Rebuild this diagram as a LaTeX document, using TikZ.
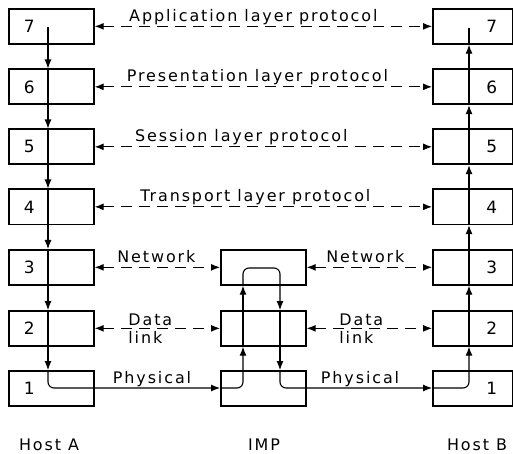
\documentclass[tikz,border=0pt]{standalone}
\usepackage{fontspec}
\setmainfont{DejaVu Sans}[LetterSpace=12]
\usetikzlibrary{arrows.meta,calc}
\begin{document}
\begin{tikzpicture}[x=1bp,y=-1bp,
  box/.style={draw, line width=1.7bp, minimum height=35bp, inner sep=0pt, anchor=north west},
  boxA/.style={box, minimum width=85bp},
  boxB/.style={box, minimum width=80bp},
  boxI/.style={box, minimum width=85bp},
  num/.style={font=\fontsize{17}{17}\selectfont, inner sep=0pt},
  tip/.style={-{Latex[length=9bp,width=7bp]}},
  flow/.style={line width=1.1bp, tip},
  proto/.style={line width=1.1bp, dash pattern=on 11bp off 7bp,
     {Latex[length=9bp,width=7bp]}-{Latex[length=9bp,width=7bp]}},
  lab/.style={font=\fontsize{16}{16}\selectfont, inner sep=0pt, anchor=base},
  labw/.style={font=\fontsize{16}{16}\selectfont, inner sep=0pt, anchor=base west},
]
\useasboundingbox (0,0) rectangle (513,454);

% Host A and Host B stacks
\foreach \k/\t in {7/8,6/68.5,5/128.5,4/188.5,3/249,2/310,1/370}{
  \node[boxA, label={[num,xshift=-22bp]center:\k}] (A\k) at (8,\t) {};
  \node[boxB, label={[num,xshift=19bp]center:\k}] (B\k) at (432,\t) {};
}
% IMP stack
\node[boxI] (I3) at (220,249) {};
\node[boxI] (I2) at (220,310) {};
\node[boxI] (I1) at (220,370) {};

% reference coordinates for the data path
\coordinate (a0) at (48,27);
\coordinate (u)  at (243,268);
\coordinate (d)  at (280,268);
\coordinate (b0) at (469,28);
\coordinate (p1) at (0,388);

% protocol (dashed) connectors
\draw[proto] (A7.east) -- node[lab, xshift=-10bp, yshift=5bp]{Application layer protocol} (B7.west);
\draw[proto] (A6.east) -- node[lab, xshift=-6bp, yshift=5bp]{Presentation layer protocol} (B6.west);
\draw[proto] (A5.east) -- node[lab, xshift=-22bp, yshift=5bp]{Session layer protocol} (B5.west);
\draw[proto] (A4.east) -- node[lab, xshift=-8bp, yshift=5bp]{Transport layer protocol} (B4.west);
\draw[proto] (A3.east) -- node[lab, xshift=-1bp, yshift=5bp]{Network} (I3.west);
\draw[proto] (I3.east) -- node[lab, xshift=-4bp, yshift=5bp]{Network} (B3.west);
\draw[proto] (A2.east) -- node[labw, xshift=-29.5bp, yshift=3bp]{Data}
                          node[labw, xshift=-29.5bp, yshift=-15bp]{link} (I2.west);
\draw[proto] (I2.east) -- node[labw, xshift=-30.5bp, yshift=3bp]{Data}
                          node[labw, xshift=-30.5bp, yshift=-15bp]{link} (B2.west);

% Host A downward path
\draw[flow] (a0) -- (a0 |- A6.north);
\draw[flow] (a0 |- A6.north) -- (a0 |- A5.north);
\draw[flow] (a0 |- A5.north) -- (a0 |- A4.north);
\draw[flow] (a0 |- A4.north) -- (a0 |- A3.north);
\draw[flow] (a0 |- A3.north) -- (a0 |- A2.north);
\draw[flow] (a0 |- A2.north) -- (a0 |- A1.north);
\draw[flow, rounded corners=6bp] (a0 |- A1.north) -- (a0 |- p1) --
   node[lab, xshift=18bp, yshift=5bp]{Physical} (I1.west |- p1);

% IMP path
\draw[flow, rounded corners=6bp] (I1.west |- p1) -- (u |- p1) -- (u |- I2.south);
\draw[flow] (u |- I2.south) -- (u |- I3.south);
\draw[flow, rounded corners=6bp] (u |- I3.south) -- (u) -- (d) -- (d |- I2.north);
\draw[flow] (d |- I2.north) -- (d |- I1.north);
\draw[flow, rounded corners=6bp] (d |- I1.north) -- (d |- p1) --
   node[lab, xshift=4bp, yshift=5bp]{Physical} (B1.west |- p1);

% Host B upward path
\draw[flow, rounded corners=6bp] (B1.west |- p1) -- (b0 |- p1) -- (b0 |- B2.south);
\draw[flow] (b0 |- B2.south) -- (b0 |- B3.south);
\draw[flow] (b0 |- B3.south) -- (b0 |- B4.south);
\draw[flow] (b0 |- B4.south) -- (b0 |- B5.south);
\draw[flow] (b0 |- B5.south) -- (b0 |- B6.south);
\draw[flow] (b0 |- B6.south) -- (b0 |- B7.south);
\draw[line width=1.1bp] (b0 |- B7.south) -- (b0);

% stack captions
\node[lab] (capA) at (49,450) {Host A};
\node[lab] (capI) at (264,450) {IMP};
\node[lab] (capB) at (477,450) {Host B};
\end{tikzpicture}
\end{document}
